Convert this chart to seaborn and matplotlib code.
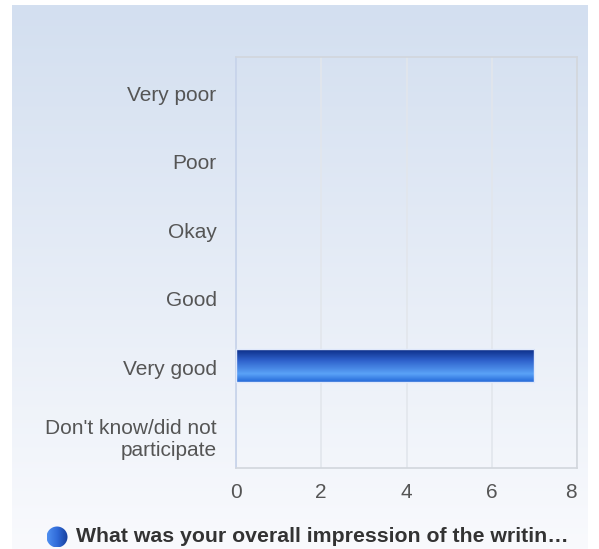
import numpy as np
import pandas as pd
import matplotlib
matplotlib.use("Agg")
import matplotlib.pyplot as plt
import seaborn as sns
from matplotlib.colors import LinearSegmentedColormap
from matplotlib.patches import Circle
from matplotlib.transforms import ScaledTranslation

categories = ["Very poor", "Poor", "Okay", "Good", "Very good",
              "Don't know/did not\nparticipate"]
values = [0, 0, 0, 0, 7, 0]
x_ticks = [0, 2, 4, 6, 8]
series_name = "What was your overall impression of the writin\u2026"

df = pd.DataFrame({"category": categories, "count": values})

sns.set_theme(style="white")
plt.rcParams['font.family'] = ['Liberation Sans', 'DejaVu Sans']

W, H = 599, 549
fig = plt.figure(figsize=(W / 100, H / 100), dpi=100)
fig.patch.set_facecolor("white")

# background gradient panel
bg = fig.add_axes([12 / W, 0, (588 - 12) / W, (H - 5) / H])
bg.set_axis_off()
bg_cmap = LinearSegmentedColormap.from_list("bg", ["#d3dff0", "#f9fafd"])
grad = np.linspace(0, 1, 256).reshape(-1, 1)
bg.imshow(grad, aspect="auto", cmap=bg_cmap, extent=[0, 1, 0, 1], origin="upper")
bg.set_xlim(0, 1)
bg.set_ylim(0, 1)

ax = fig.add_axes([236 / W, (H - 468) / H, (577 - 236) / W, (468 - 57) / H])
ax.patch.set_alpha(0)

sns.barplot(data=df, y="category", x="count", orient="h", ax=ax,
            color="#2a63d0", width=0.48, saturation=1, zorder=3)

ax.set_xlim(0, 8)
ax.set_xticks(x_ticks)
ax.set_xticklabels([str(t) for t in x_ticks])
ax.set_xlabel("")
ax.set_ylabel("")
ax.grid(axis="x", color="#e2e6ec", linewidth=1.2, zorder=0)
ax.set_axisbelow(True)
ax.tick_params(axis="both", length=0, labelsize=15, colors="#555555")
ax.tick_params(axis="y", pad=14)
ax.tick_params(axis="x", pad=11)
for lbl in ax.get_yticklabels():
    lbl.set_horizontalalignment("right")
    lbl.set_multialignment("right")
    lbl.set_transform(lbl.get_transform() + ScaledTranslation(0, -2 / 100, fig.dpi_scale_trans))
xl = ax.get_xticklabels()
xl[-1].set_transform(xl[-1].get_transform() + ScaledTranslation(-6 / 100, 0, fig.dpi_scale_trans))
for side, sp in ax.spines.items():
    sp.set_visible(True)
    sp.set_color("#d2d6dc")
    sp.set_linewidth(1.2)
ax.spines["left"].set_color("#c5d2ea")

# gradient fill for bars
bar_cmap = LinearSegmentedColormap.from_list(
    "bar", [(0, "#0b2c85"), (0.35, "#2f62cc"), (0.75, "#5aa2f7"), (1.0, "#2469d8")])
for p in list(ax.patches):
    w = p.get_width()
    if w <= 0:
        p.set_visible(False)
        continue
    x0, y0 = p.get_x(), p.get_y()
    h = p.get_height()
    p.set_facecolor("none")
    p.set_edgecolor("#dfe8fb")
    p.set_linewidth(1.0)
    im = ax.imshow(grad, aspect="auto", cmap=bar_cmap,
                   extent=[x0, x0 + w, y0 + h, y0], origin="upper", zorder=2.5)
    im.set_clip_path(p)
ax.set_xlim(0, 8)
ax.set_ylim(len(categories) - 0.5, -0.5)

# legend
lg = fig.add_axes([0, 0, 1, 1])
lg.set_axis_off()
lg.set_xlim(0, W)
lg.set_ylim(H, 0)
cx, cy, r = 57, 537, 10.5
circ = Circle((cx, cy), r, transform=lg.transData, facecolor="none", edgecolor="none")
lg.add_patch(circ)
leg_cmap = LinearSegmentedColormap.from_list("leg", ["#4f8ff0", "#2f6ad8", "#173f9c"])
im2 = lg.imshow(np.linspace(0, 1, 64).reshape(1, -1), cmap=leg_cmap, aspect="auto",
                extent=[cx - r, cx + r, cy + r, cy - r], zorder=3)
im2.set_clip_path(circ)
lg.set_xlim(0, W)
lg.set_ylim(H, 0)
lg.text(76, cy, series_name, fontsize=15.3, fontweight="bold", color="#333333",
        va="center", ha="left")

fig.savefig("out.png", dpi=100)
